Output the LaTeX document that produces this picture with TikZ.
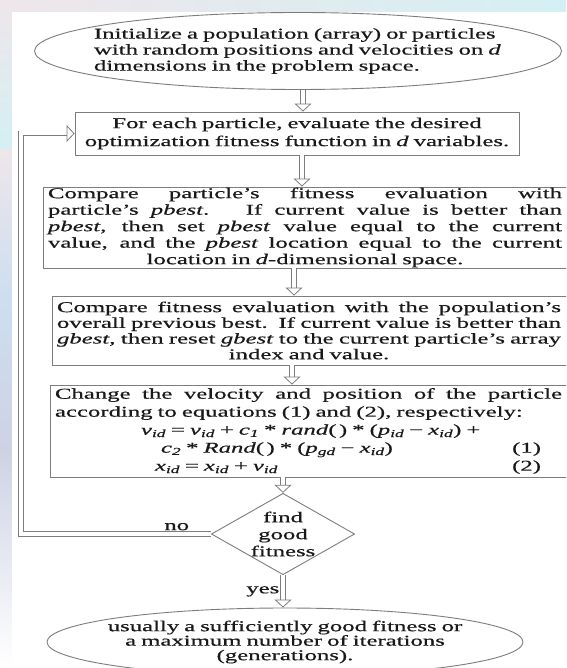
\documentclass[tikz,border=0pt]{standalone}
\usepackage{fontspec}
\setmainfont[FakeStretch=1.65, FakeBold=0.5]{Liberation Serif}
\usepackage{tikz}
\usetikzlibrary{arrows.meta, positioning, shapes.geometric, calc}
\definecolor{flowgray}{RGB}{125,125,125}
\definecolor{flowtext}{RGB}{25,25,25}
\definecolor{edgeblue}{RGB}{205,222,240}
\definecolor{edgecyan}{RGB}{212,240,244}
\definecolor{edgepink}{RGB}{238,230,234}
\definecolor{edgelilac}{RGB}{206,210,228}
% one printed line of a box: stretched, centred or flush left
\newcommand{\fillline}[2]{\makebox[#1][s]{\spaceskip=4pt plus 1fil\xspaceskip=4pt plus 1fil\relax #2}}
\newcommand{\midline}[2]{\makebox[#1][c]{#2}}
\newcommand{\flushline}[2]{\makebox[#1][l]{#2}}
\newcommand{\idx}[2]{\textit{#1}\textsubscript{\textit{#2}}}

\begin{document}
\begin{tikzpicture}[
  x=1pt, y=-1pt,
  box/.style={rectangle, draw=flowgray, line width=0.9pt, text=flowtext,
              inner xsep=5pt, inner ysep=0pt, align=left},
  ovalbox/.style={ellipse, draw=flowgray, line width=0.9pt, text=flowtext,
                  inner xsep=-40pt, inner ysep=0pt},
  decide/.style={diamond, draw=flowgray, line width=0.9pt, text=flowtext,
                 inner sep=0pt, shape aspect=1.76, align=center},
  arr/.style={double=white, double distance=4pt, line width=0.8pt, draw=flowgray,
              -{Triangle[open, length=8pt, width=17pt]}}
]
\path[use as bounding box, clip] (0,0) rectangle (566,668);

% page edge behind the chart
\fill[edgeblue] (0,0) rectangle (566,668);
\shade[top color=edgepink, bottom color=edgecyan] (0,0) rectangle (12,150);
\shade[top color=edgepink, bottom color=edgeblue] (0,150) rectangle (12,300);
\shade[top color=edgeblue, bottom color=edgelilac] (0,300) rectangle (12,450);
\shade[top color=edgelilac, bottom color=white] (0,450) rectangle (12,668);
\shade[left color=edgepink, right color=edgecyan] (12,0) rectangle (566,12);
\fill[white] (12,12) rectangle (566,668);

\node[ovalbox, minimum width=527pt, minimum height=77pt, text width=408pt, align=left,
      font=\fontsize{15}{16}\selectfont] (init) at (298,51)
  {Initialize a population (array) or particles\\
   with random positions and velocities on \textit{d}\\
   dimensions in the problem space.};

\node[box, minimum width=444pt, minimum height=43pt, text width=434pt, align=center,
      font=\fontsize{15}{18}\selectfont] (eval) at (297,133.5)
  {For each particle, evaluate the desired\\
   optimization fitness function in \textit{d} variables.};

\node[box, minimum width=529pt, minimum height=81pt, text width=519pt,
      font=\fontsize{15}{16.5}\selectfont] (cmpp) at (307.5,227.5)
  {\fillline{514pt}{Compare particle's fitness evaluation with}\\
   \fillline{514pt}{particle's \textit{pbest}.\ \ \ If current value is better than}\\
   \fillline{514pt}{\textit{pbest}, then set \textit{pbest} value equal to the current}\\
   \fillline{514pt}{value, and the \textit{pbest} location equal to the current}\\
   \midline{514pt}{location in \textit{d}-dimensional space.}};

\node[box, minimum width=520pt, minimum height=69pt, text width=510pt,
      font=\fontsize{15}{15.7}\selectfont] (cmpg) at (312,330.5)
  {\fillline{504pt}{Compare fitness evaluation with the population's}\\
   \fillline{504pt}{overall previous best.\ \ If current value is better than}\\
   \fillline{504pt}{\textit{gbest}, then reset \textit{gbest} to the current particle's array}\\
   \midline{504pt}{index and value.}};

\node[box, minimum width=522pt, minimum height=92pt, text width=512pt,
      font=\fontsize{15}{18}\selectfont] (move) at (311,431)
  {\fillline{507pt}{Change the velocity and position of the particle}\\
   \flushline{507pt}{according to equations (1) and (2), respectively:}\\
   \flushline{507pt}{\hspace*{86pt}\idx{v}{id} = \idx{v}{id} + \idx{c}{1} * \textit{rand}(\,) * (\idx{p}{id} − \idx{x}{id}) +}\\
   \flushline{507pt}{\hspace*{106pt}\idx{c}{2} * \textit{Rand}(\,) * (\idx{p}{gd} − \idx{x}{id})\hfill(1)\hspace*{21pt}}\\
   \flushline{507pt}{\hspace*{100pt}\idx{x}{id} = \idx{x}{id} + \idx{v}{id}\hfill(2)\hspace*{21pt}}};

\node[decide, minimum width=137pt, minimum height=78pt,
      font=\fontsize{15}{17}\selectfont] (fit) at (283,534)
  {find\\good\\fitness};

\node[ovalbox, minimum width=476pt, minimum height=68pt, text width=370pt, align=center,
      font=\fontsize{15}{14.5}\selectfont] (stop) at (285,642)
  {usually a sufficiently good fitness or\\
   a maximum number of iterations\\
   (generations).};

\coordinate (back) at (21,0);

\draw[arr] ([xshift=5pt]init.south) -- ([xshift=6pt]eval.north);
\draw[arr] ([xshift=5pt]eval.south) -- ([xshift=-5.5pt]cmpp.north);
\draw[arr] ([xshift=-13.5pt]cmpp.south) -- ([xshift=-18pt]cmpg.north);
\draw[arr] ([xshift=-20pt]cmpg.south) -- ([xshift=-19pt]move.north);
\draw[arr] ([xshift=-28pt]move.south) -- (fit.north);
\draw[arr] (fit.south) -- node[left, text=flowtext, font=\fontsize{15}{16}\selectfont] {yes}
  ([xshift=-2pt]stop.north);

% loop back when the fitness is not good enough
\draw[arr] (fit.west) -- node[above, pos=0.18, text=flowtext, font=\fontsize{15}{16}\selectfont] {no}
  (fit.west -| back) -- (eval.west -| back) -- (eval.west);
\end{tikzpicture}
\end{document}
